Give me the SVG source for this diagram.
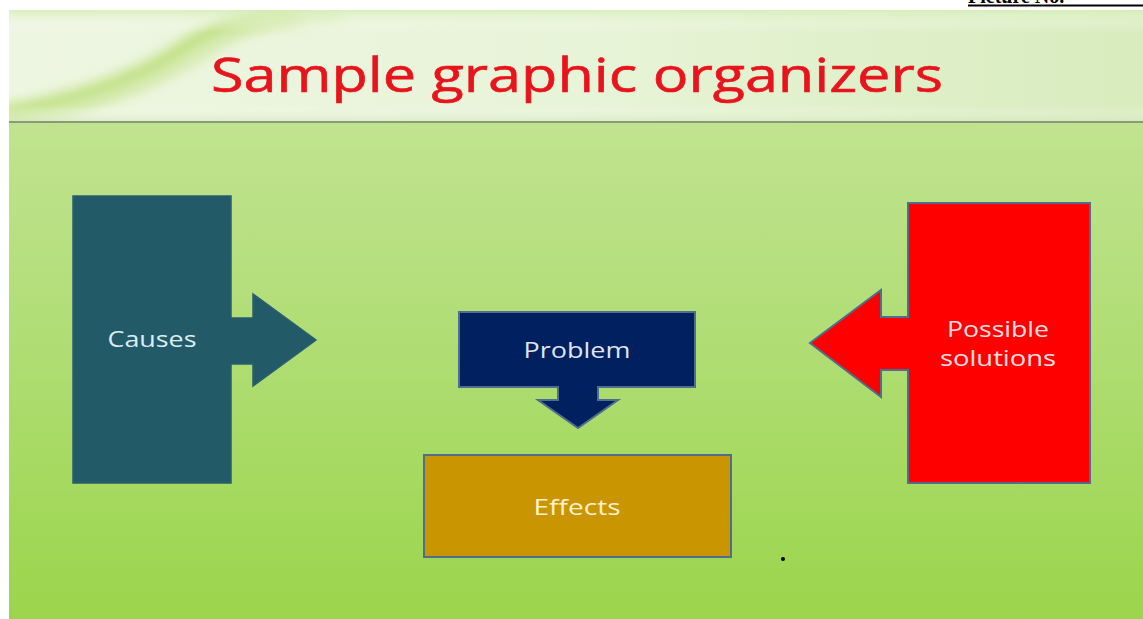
<svg xmlns="http://www.w3.org/2000/svg" width="1143" height="619" viewBox="0 0 1143 619">
<defs>
<linearGradient id="bg" x1="0" y1="0" x2="0" y2="1">
<stop offset="0" stop-color="#c9e69e"/>
<stop offset="0.5" stop-color="#b2de78"/>
<stop offset="1" stop-color="#9bd54c"/>
</linearGradient>
<linearGradient id="hdr" x1="0" y1="0" x2="1" y2="0">
<stop offset="0" stop-color="#eef6e2"/>
<stop offset="0.5" stop-color="#e8f4d8"/>
<stop offset="1" stop-color="#d8ecbd"/>
</linearGradient>
<linearGradient id="hdrv" x1="0" y1="0" x2="0" y2="1">
<stop offset="0" stop-color="#d6edb8" stop-opacity="0.8"/>
<stop offset="0.2" stop-color="#ffffff" stop-opacity="0"/>
<stop offset="0.85" stop-color="#ffffff" stop-opacity="0"/>
<stop offset="1" stop-color="#d0e6b6" stop-opacity="0.6"/>
</linearGradient>
<filter id="blur" x="-20%" y="-50%" width="140%" height="200%"><feGaussianBlur stdDeviation="7"/></filter>
<clipPath id="hclip"><rect x="9" y="10" width="1134" height="112"/></clipPath>
</defs>
<style>
.lbl{font-family:"Open Sans","Liberation Sans",sans-serif;font-size:22px;text-anchor:middle}
.edge{stroke:#4f6d8c;stroke-width:2}
</style>
<rect x="0" y="0" width="1143" height="619" fill="#ffffff"/>
<text x="968" y="3" font-family="Liberation Serif,serif" font-weight="bold" font-size="20" fill="#000">Picture No.</text>
<line x1="968" y1="5.5" x2="1143" y2="5.5" stroke="#000" stroke-width="2"/>
<rect x="9" y="10" width="1134" height="609" fill="url(#bg)"/>
<g clip-path="url(#hclip)">
<rect x="9" y="10" width="1134" height="112" fill="url(#hdr)"/>
<path d="M0,115 C80,100 140,80 190,45 C220,25 260,15 300,12" fill="none" stroke="#b6dc6e" stroke-width="14" filter="url(#blur)"/>
<path d="M0,120 C100,110 170,75 230,35 C260,20 300,15 340,13" fill="none" stroke="#cfe8a2" stroke-width="10" filter="url(#blur)"/>
<rect x="9" y="10" width="1134" height="112" fill="url(#hdrv)"/>
</g>
<line x1="9" y1="122" x2="1143" y2="122" stroke="#8a9a78" stroke-width="2"/>
<text x="577" y="92" font-family="Open Sans,Liberation Sans,sans-serif" font-size="48" fill="#e8141c" stroke="#e8141c" stroke-width="0.6" text-anchor="middle" textLength="732" lengthAdjust="spacingAndGlyphs">Sample graphic organizers</text>
<g id="causes">
<path d="M73,196 H231 V318 H253 V294 L316,340 L253,386 V364 H231 V483 H73 Z" fill="#225a68" stroke="#2a5f6c" stroke-width="1.5"/>
<text class="lbl" x="152" y="347" fill="#dbeef4" textLength="89" lengthAdjust="spacingAndGlyphs">Causes</text>
</g>
<g id="solutions">
<path d="M908,203 H1090 V483 H908 V370 H881 V397 L810,343 L881,290 V317 H908 Z" fill="#ff0000" class="edge"/>
<text class="lbl" x="998" y="337" fill="#fde0e0" textLength="102" lengthAdjust="spacingAndGlyphs">Possible</text>
<text class="lbl" x="998" y="366" fill="#fde0e0" textLength="116" lengthAdjust="spacingAndGlyphs">solutions</text>
</g>
<g id="problem">
<path d="M459,312 H695 V387 H598 V400 H618 L578,428 L538,400 H558 V387 H459 Z" fill="#002060" class="edge"/>
<text class="lbl" x="577" y="358" fill="#dde4f2" textLength="107" lengthAdjust="spacingAndGlyphs">Problem</text>
</g>
<g id="effects">
<rect x="424" y="455" width="307" height="102" fill="#c99500" class="edge"/>
<text class="lbl" x="577" y="515" fill="#fff2cc" textLength="87" lengthAdjust="spacingAndGlyphs">Effects</text>
</g>
<g id="connectors"></g>
<circle cx="783" cy="559" r="2" fill="#000"/>
</svg>
